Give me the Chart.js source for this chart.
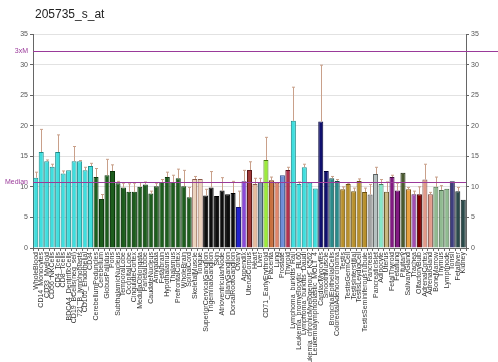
<!DOCTYPE html>
<html>
<head>
<meta charset="utf-8">
<script src="https://cdn.jsdelivr.net/npm/chart.js@4.4.0/dist/chart.umd.min.js"></script>
<style>
  body { margin: 0; background: #fff; }
  #wrap { width: 498px; height: 362px; }
</style>
</head>
<body>
<div id="wrap"><canvas id="chart" width="498" height="362"></canvas></div>
<script>
// Probe set shown in the title
const probeName = '205735_s_at';

// Tissue labels, left to right
const tissues = [
    'WholeBlood', 'CD14_Monocytes', 'CD33_Myeloid', 'CD56_NKCells', 'CD4_Tcells', 'CD8_Tcells',
    'BDCA4_DentriticCells', 'CD19_BCells(neg_sel)', '721_B_lymphoblasts', 'CD105_Endothelial', 'CD34',
    'CerebellumPeduncles', 'Cerebellum', 'GlobusPallidus', 'Pons', 'SubthalamicNucleus', 'TemporalLobe',
    'OccipitalLobe', 'CingulateCortex', 'MedullaOblongata', 'ParietalLobe', 'CaudateNucleus', 'Amygdala',
    'Fetalbrain', 'Hypothalamus', 'Thalamus', 'PrefrontalCortex', 'WholeBrain', 'SpinalCord',
    'SkeletalMuscle', 'Tongue',
    'SuperiorCervicalGanglion', 'TrigeminalGanglion', 'Skin', 'AtrioventricularNode', 'CiliaryGanglion', 'DorsalRootGanglion',
    'Ovary', 'Appendix', 'UterusCorpus', 'Heart', 'Liver', 'CD71_EarlyErythroid', 'Placenta', 'Lung', 'Prostate', 'Thyroid',
    'Lymphoma_burkitts_Raji', 'Leukemia_promyelocytic_HL60', 'Lymphoma_burkitts_Daudi',
    'Leukemia_chronicMyelogenous_K562', 'Leukemialymphoblastic_MOLT_4',
    'CardiacMyocytes', 'SmoothMuscle', 'BronchialEpithelialCells', 'ColorectalAdenocarcinoma',
    'Testis', 'TestisGermCell', 'TestisInterstitial', 'TestisLeydigCell', 'TestisSeminiferousTubule',
    'Pancreas', 'PancreaticIslet', 'Adipocyte', 'Uterus', 'FetalThyroid', 'Fetallung', 'Pituitary',
    'SalivaryGland', 'Trachea', 'OlfactoryBulb', 'AdrenalCortex', 'AdrenalGland',
    'BoneMarrow', 'Thymus', 'Lymphnode', 'Tonsil', 'Fetalliver', 'Kidney'
];

// Expression values (bar heights)
const expression = [
    11.5, 15.7, 14.2, 13.3, 15.7, 12.2, 12.7, 14.2, 14.2, 12.7, 13.4,
    11.6, 8.0, 11.9, 12.6, 10.6, 9.9, 9.2, 9.2, 10.0, 10.4, 8.9, 10.1, 10.8, 11.6, 10.8, 11.4, 10.1, 8.3,
    11.3, 11.3,
    8.6, 9.9, 8.5, 9.4, 8.8, 9.0,
    6.7, 10.9, 12.75, 10.45, 10.8, 14.4, 11.1, 10.7, 11.9, 12.75,
    20.8, 10.45, 13.2, 10.7, 9.75,
    20.7, 12.6, 11.4, 10.95,
    9.6, 10.45, 9.3, 10.95, 9.15,
    8.75, 12.1, 10.45, 9.2, 11.6, 9.4, 12.3, 9.6, 8.8, 8.8, 11.2, 8.8,
    10.0, 9.5, 9.7, 10.9, 9.3, 7.9
];

// Top of each error whisker
const errorTop = [
    12.4, 19.4, 14.4, 13.7, 18.5, 12.6, 12.7, 16.6, 14.3, 13.2, 13.85,
    13.0, 8.75, 14.5, 13.6, 10.9, 10.6, 10.5, 10.6, 10.7, 10.8, 9.3, 10.6, 11.2, 12.4, 11.9, 12.9, 12.7, 9.9,
    11.7, 11.3,
    9.6, 12.5, 8.5, 11.5, 8.8, 10.9,
    9.3, 12.7, 14.1, 11.4, 11.4, 18.1, 11.6, 10.7, 11.9, 13.2,
    26.3, 10.8, 13.7, 10.7, 9.75,
    29.9, 12.6, 11.7, 11.2,
    10.0, 10.6, 9.8, 11.3, 9.8,
    10.4, 13.2, 11.2, 10.8, 11.9, 10.6, 12.3, 9.9, 9.3, 10.0, 13.7, 9.1,
    11.6, 10.2, 9.7, 10.9, 9.9, 7.9
];

// Reference lines
const medianValue = 10.75;
const tripleMedian = 32.25;

// Colour groups: [number of bars, fill, border]
const colourGroups = [
    [11, '#3fdede', '#1b8c8c'],
    [18, '#1d5d1d', '#0c360c'],
    [2, '#ecd2bc', '#8a5a4a'],
    [6, '#0e0e0e', '#000000'],
    [1, '#2222cc', '#111177'],
    [1, '#8a4ad8', '#4a2080'],
    [1, '#a33a3a', '#5a1a1a'],
    [1, '#e6bc9e', '#8a5a4a'],
    [1, '#7e9cae', '#3e5a6a'],
    [1, '#9cec3a', '#4a7a10'],
    [1, '#c8703e', '#6a3010'],
    [1, '#e0866a', '#7a3a2a'],
    [1, '#6e8ed8', '#2e4a8a'],
    [1, '#b2324e', '#5a1020'],
    [5, '#3fdede', '#1b8c8c'],
    [2, '#10106e', '#05053a'],
    [2, '#2a8a8a', '#104a4a'],
    [5, '#b8902c', '#6a5010'],
    [1, '#a2a2a2', '#555555'],
    [1, '#b6c0c0', '#5a6060'],
    [1, '#86e6c8', '#3a7a60'],
    [1, '#c8b880', '#6a5a30'],
    [2, '#821a82', '#400a40'],
    [1, '#4a5a30', '#202a10'],
    [1, '#e8a040', '#7a5010'],
    [1, '#a24eb2', '#50205a'],
    [1, '#800000', '#400000'],
    [2, '#e29a8a', '#7a4a40'],
    [3, '#90ba90', '#4a6a4a'],
    [1, '#3e3e7e', '#1a1a40'],
    [2, '#2a4a4a', '#102020']
];

const fills = [];
const borders = [];
colourGroups.forEach(([n, fill, border]) => {
    for (let i = 0; i < n; i++) {
        fills.push(fill);
        borders.push(border);
    }
});

const FONT = 'Liberation Sans, Arial, sans-serif';
const LINE_COLOUR = '#9a3a9a';

// Error whiskers, reference lines and the left-side labels
const overlayPlugin = {
    id: 'overlay',
    afterDatasetsDraw(chart) {
        const ctx = chart.ctx;
        const y = chart.scales.y;
        const area = chart.chartArea;
        const meta = chart.getDatasetMeta(0);

        ctx.save();
        ctx.strokeStyle = '#c9a08a';
        ctx.lineWidth = 1;
        meta.data.forEach((bar, i) => {
            if (errorTop[i] <= expression[i] + 0.05) return;
            const x = Math.round(bar.x) + 0.5;
            const yTop = y.getPixelForValue(errorTop[i]);
            const yBar = y.getPixelForValue(expression[i]);
            ctx.beginPath();
            ctx.moveTo(x, yBar);
            ctx.lineTo(x, yTop);
            ctx.moveTo(x - 1.5, yTop);
            ctx.lineTo(x + 1.5, yTop);
            ctx.stroke();
        });

        // Median and 3xM lines
        ctx.strokeStyle = LINE_COLOUR;
        [medianValue, tripleMedian].forEach(v => {
            const py = Math.round(y.getPixelForValue(v)) + 0.5;
            ctx.beginPath();
            ctx.moveTo(area.left, py);
            ctx.lineTo(v === tripleMedian ? chart.width : area.right, py);
            ctx.stroke();
        });

        ctx.fillStyle = LINE_COLOUR;
        ctx.font = '7px ' + FONT;
        ctx.textAlign = 'right';
        ctx.textBaseline = 'middle';
        ctx.fillText('Median', area.left - 5, y.getPixelForValue(medianValue));
        ctx.fillText('3xM', area.left - 5, y.getPixelForValue(tripleMedian));

        // Title
        ctx.fillStyle = '#222';
        ctx.font = '12px ' + FONT;
        ctx.textAlign = 'left';
        ctx.fillText(probeName, area.left + 2, 15);
        ctx.restore();
    }
};

const ctx = document.getElementById('chart').getContext('2d');
new Chart(ctx, {
    type: 'bar',
    data: {
        labels: tissues,
        datasets: [{
            data: expression,
            backgroundColor: fills,
            borderColor: borders,
            borderWidth: 1,
            barPercentage: 0.92,
            categoryPercentage: 1.0
        }]
    },
    options: {
        responsive: false,
        animation: false,
        layout: { padding: { top: 34, left: 0, right: 0, bottom: 0 } },
        plugins: {
            legend: { display: false },
            tooltip: { enabled: false }
        },
        scales: {
            x: {
                grid: { drawOnChartArea: false, tickLength: 3, color: '#666' },
                border: { color: '#666' },
                ticks: {
                    autoSkip: false,
                    minRotation: 90,
                    maxRotation: 90,
                    padding: 1,
                    color: '#333',
                    font: { size: 7, family: FONT }
                },
                afterFit(scale) { scale.height = 114; }
            },
            y: {
                position: 'left',
                min: 0,
                max: 35,
                ticks: { stepSize: 5, color: '#555', padding: 2, font: { size: 7, family: FONT } },
                grid: { color: '#e2e2e2', tickLength: 3, tickColor: '#666' },
                border: { color: '#666' },
                afterFit(scale) { scale.width = 33; }
            },
            y2: {
                position: 'right',
                min: 0,
                max: 35,
                ticks: { stepSize: 5, color: '#555', padding: 2, font: { size: 7, family: FONT } },
                grid: { drawOnChartArea: false, tickLength: 3, tickColor: '#666' },
                border: { color: '#666' },
                afterFit(scale) { scale.width = 32; }
            }
        }
    },
    plugins: [overlayPlugin]
});
</script>
</body>
</html>
